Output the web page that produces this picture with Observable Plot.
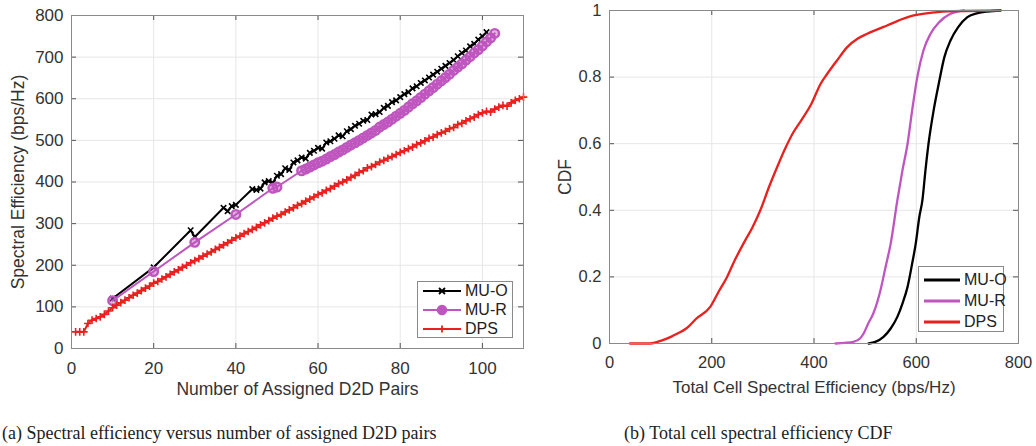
<!DOCTYPE html>
<html><head><meta charset="utf-8">
<script src="https://cdn.jsdelivr.net/npm/d3@7"></script>
<script src="https://cdn.jsdelivr.net/npm/@observablehq/plot@0.6"></script>
<style>
body{margin:0;background:#fff;width:1036px;height:446px;position:relative;overflow:hidden;font-family:"Liberation Sans",Arial,sans-serif;}
.panel{position:absolute;top:0;}
.legend{position:absolute;background:#fff;border:1px solid #8a8a8a;box-sizing:border-box;font-size:16px;color:#222;}
.legend .row{position:absolute;left:0;height:18px;display:flex;align-items:center;white-space:nowrap;}
.legend svg{display:block;flex:none;}
.legend span{margin-left:2px;line-height:18px;white-space:nowrap;}
.cap{position:absolute;font-family:"Liberation Serif","Times New Roman",serif;font-size:18px;color:#222;white-space:nowrap;}
</style></head><body>
<div id="a" class="panel" style="left:0"></div>
<div id="b" class="panel" style="left:530px"></div>
<div id="legA" class="legend" style="left:417px;top:281px;width:96px;height:57px"></div>
<div id="legB" class="legend" style="left:918px;top:266px;width:86px;height:66px"></div>
<div class="cap" id="capA" style="left:2px;top:423px"></div>
<div class="cap" id="capB" style="left:624px;top:423px"></div>
<script>
// ---------- data: panel (a) ----------
const seriesNames = ["MU-O", "MU-R", "DPS"];
const seriesColors = ["#000000", "#bf55bf", "#e8201e"];
const seriesSymbols = ["times", "circle", "plus"];

const muoX = [10,20,29,30,37,38,39,40,44,45,46,47,48,49,
  50,51,52,53,54,55,56,57,58,59,60,61,62,63,64,65,66,67,68,69,70,71,72,73,74,75,
  76,77,78,79,80,81,82,83,84,85,86,87,88,89,90,91,92,93,94,95,96,97,98,99,100,101];
const muoY = [120,195,284,268,338,330,342,345,383,381,384,399,402,398,
  415,419,433,429,447,452,459,456,470,475,482,480,495,498,504,512,510,522,527,535,540,547,549,562,563,568,
  578,583,592,596,604,611,616,625,630,638,644,651,658,665,672,679,686,693,702,710,716,726,732,742,750,760];

const murX = [10,20,30,40,49,50,
  56,57,58,59,60,61,62,63,64,65,66,67,68,69,70,71,72,73,74,75,76,77,78,79,80,
  81,82,83,84,85,86,87,88,89,90,91,92,93,94,95,96,97,98,99,100,101,102,103];
const murY = [115,185,255,322,385,388,
  427,431,436,441,446,450,455,461,466,472,477,483,489,494,500,506,512,518,524,532,538,544,551,558,565,
  572,580,588,595,603,611,619,627,635,643,651,659,668,676,684,693,701,710,718,727,737,746,757];

const dpsX = [1,2,3,4,5,6,7,8,9,10,11,12,13,14,15,16,17,18,19,20,21,22,23,24,25,26,27,28,29,30,
  31,32,33,34,35,36,37,38,39,40,41,42,43,44,45,46,47,48,49,50,51,52,53,54,55,56,57,58,59,60,
  61,62,63,64,65,66,67,68,69,70,71,72,73,74,75,76,77,78,79,80,81,82,83,84,85,86,87,88,89,90,
  91,92,93,94,95,96,97,98,99,100,101,102,103,104,105,106,107,108,109,110];
const dpsY = [40,40,40,60,68,72,76,82,90,98,
  104,110,116,122,128,133,139,145,150,157,
  161,167,172,178,184,189,195,200,206,211,
  216,222,227,232,238,243,249,254,260,266,
  270,276,281,286,291,297,302,307,313,318,
  322,328,333,338,344,348,354,359,364,370,
  374,380,384,390,396,400,405,411,416,423,
  427,434,437,442,448,452,457,461,466,471,
  475,480,484,490,494,499,505,508,514,518,
  522,528,531,538,541,547,552,556,562,566,
  570,568,575,580,584,582,590,596,600,604];

const xTicksA = [0,20,40,60,80,100];
const yTicksA = [0,100,200,300,400,500,600,700,800];

// ---------- data: panel (b) CDF ----------
const cdfMuoX = [507,520,536,550,563,573,583,592,599,606,612,618,624,634,644,655,667,682,700,720,739,765];
const cdfMuoY = [0,0.005,0.02,0.045,0.08,0.12,0.17,0.24,0.30,0.38,0.43,0.52,0.60,0.70,0.78,0.86,0.91,0.95,0.98,0.992,0.997,1];
const cdfMurX = [442,460,477,490,497,506,516,530,540,550,563,573,583,592,602,614,628,645,667,693];
const cdfMurY = [0,0.002,0.005,0.015,0.03,0.06,0.09,0.16,0.23,0.30,0.43,0.52,0.60,0.70,0.80,0.88,0.93,0.965,0.99,1];
const cdfDpsX = [40,60,80,100,120,133,150,170,197,215,230,245,262,280,295,312,328,345,360,375,395,413,426,445,465,485,504,543,595,673,765];
const cdfDpsY = [0,0,0,0.008,0.02,0.03,0.045,0.075,0.11,0.16,0.20,0.25,0.30,0.35,0.40,0.47,0.53,0.59,0.635,0.67,0.72,0.78,0.81,0.85,0.89,0.915,0.93,0.955,0.985,0.998,1];

const xTicksB = [0,200,400,600,800];
const yTicksB = [0,0.2,0.4,0.6,0.8,1];

const labelsA = {x: "Number of Assigned D2D Pairs", y: "Spectral Efficiency (bps/Hz)"};
const labelsB = {x: "Total Cell Spectral Efficiency (bps/Hz)", y: "CDF"};
const captionA = "(a)  Spectral efficiency versus number of assigned D2D pairs";
const captionB = "(b)  Total cell spectral efficiency CDF";

// ---------- build ----------
const zip = (xs, ys, name) => xs.map((x, i) => ({x, y: ys[i], name}));
const seriesA = [zip(muoX, muoY, "MU-O"), zip(murX, murY, "MU-R"), zip(dpsX, dpsY, "DPS")];
const seriesB = [zip(cdfMuoX, cdfMuoY, "MU-O"), zip(cdfMurX, cdfMurY, "MU-R"), zip(cdfDpsX, cdfDpsY, "DPS")];

const FRAME = "#8a8a8a", GRID = "#e6e6e6", TICK = "#555", TXT = "#333";
const style = {fontFamily: "'Liberation Sans', Arial, sans-serif", fontSize: "16px", color: TXT, background: "transparent", overflow: "visible"};

function frameMarks(xt, yt, iw, ih, pad, fs) {
  return [
    Plot.gridX(xt, {stroke: GRID, strokeOpacity: 1}),
    Plot.gridY(yt, {stroke: GRID, strokeOpacity: 1}),
    Plot.tickX(xt, {x: d => d, stroke: TICK, insetTop: ih - 5}),
    Plot.tickX(xt, {x: d => d, stroke: TICK, insetBottom: ih - 5}),
    Plot.tickY(yt, {y: d => d, stroke: TICK, insetRight: iw - 5}),
    Plot.tickY(yt, {y: d => d, stroke: TICK, insetLeft: iw - 5}),
    Plot.axisX(xt, {tickSize: 0, tickPadding: pad, fontSize: fs, label: null, fill: TXT}),
    Plot.axisY(yt, {tickSize: 0, tickPadding: 8, fontSize: fs, label: null, fill: TXT, tickFormat: d => String(d)})
  ];
}

// Panel (a)
{
  const W = 530, H = 400, mL = 71, mR = 7, mT = 15, mB = 52;
  const iw = W - mL - mR, ih = H - mT - mB;
  const marks = [...frameMarks(xTicksA, yTicksA, iw, ih, 13, 17)];
  seriesA.forEach((s, i) => {
    const c = seriesColors[i];
    marks.push(Plot.line(s, {x: "x", y: "y", stroke: c, strokeWidth: 2}));
    if (seriesSymbols[i] === "circle")
      marks.push(Plot.dot(s, {x: "x", y: "y", stroke: c, strokeWidth: 2.4, r: 4.3, fill: c, fillOpacity: 0.45}));
    else
      marks.push(Plot.dot(s, {x: "x", y: "y", stroke: c, strokeWidth: 1.6, r: 2.6, symbol: seriesSymbols[i]}));
  });
  marks.push(Plot.frame({stroke: FRAME}));
  marks.push(Plot.text([labelsA.x], {text: d => d, frameAnchor: "bottom", dy: 46, fontSize: 17.5, fill: TXT}));
  marks.push(Plot.text([labelsA.y], {text: d => d, frameAnchor: "left", textAnchor: "middle", dx: -53, rotate: -90, fontSize: 17.5, fill: TXT}));
  const p = Plot.plot({width: W, height: H, marginLeft: mL, marginRight: mR, marginTop: mT, marginBottom: mB,
    x: {domain: [0, 110]}, y: {domain: [0, 800]}, style, marks});
  document.getElementById("a").appendChild(p);
}

// Panel (b)
{
  const W = 506, H = 400, mL = 79, mR = 18, mT = 10, mB = 57;
  const iw = W - mL - mR, ih = H - mT - mB;
  const marks = [...frameMarks(xTicksB, yTicksB, iw, ih, 13, 16.5)];
  seriesB.forEach((s, i) => {
    marks.push(Plot.line(s, {x: "x", y: "y", stroke: seriesColors[i], strokeWidth: 2.3, curve: "monotone-x"}));
  });
  marks.push(Plot.frame({stroke: FRAME}));
  marks.push(Plot.text([labelsB.x], {text: d => d, frameAnchor: "bottom", dy: 49, fontSize: 17, fill: TXT}));
  marks.push(Plot.text([labelsB.y], {text: d => d, frameAnchor: "left", textAnchor: "middle", dx: -44, rotate: -90, fontSize: 17.5, fill: TXT}));
  const p = Plot.plot({width: W, height: H, marginLeft: mL, marginRight: mR, marginTop: mT, marginBottom: mB,
    x: {domain: [0, 800]}, y: {domain: [0, 1]}, style, marks});
  document.getElementById("b").appendChild(p);
}

// Legends
function legend(id, withMarkers, rowH, top0, lineW) {
  const el = document.getElementById(id);
  seriesNames.forEach((n, i) => {
    const row = document.createElement("div");
    row.className = "row";
    row.style.top = (top0 + i * rowH) + "px";
    row.style.left = "3px";
    const c = seriesColors[i];
    let mk = "";
    const cx = lineW / 2 + 2;
    if (withMarkers) {
      if (seriesSymbols[i] === "circle") mk = `<circle cx="${cx}" cy="9" r="4.5" fill="${c}" stroke="${c}" stroke-width="1.5"/>`;
      else if (seriesSymbols[i] === "times") mk = `<path d="M${cx-3},6L${cx+3},12M${cx-3},12L${cx+3},6" stroke="${c}" stroke-width="1.8"/>`;
      else mk = `<path d="M${cx},5.5V12.5M${cx-3.5},9H${cx+3.5}" stroke="${c}" stroke-width="1.8"/>`;
    }
    row.innerHTML = `<svg width="${lineW + 4}" height="18"><line x1="2" x2="${lineW + 2}" y1="9" y2="9" stroke="${c}" stroke-width="${withMarkers ? 2.2 : 2.8}"/>${mk}</svg><span>${n}</span>`;
    el.appendChild(row);
  });
}
legend("legA", true, 19, 0, 38);
legend("legB", false, 21, 4, 36);

document.getElementById("capA").textContent = captionA;
document.getElementById("capB").textContent = captionB;
</script>
</body></html>
